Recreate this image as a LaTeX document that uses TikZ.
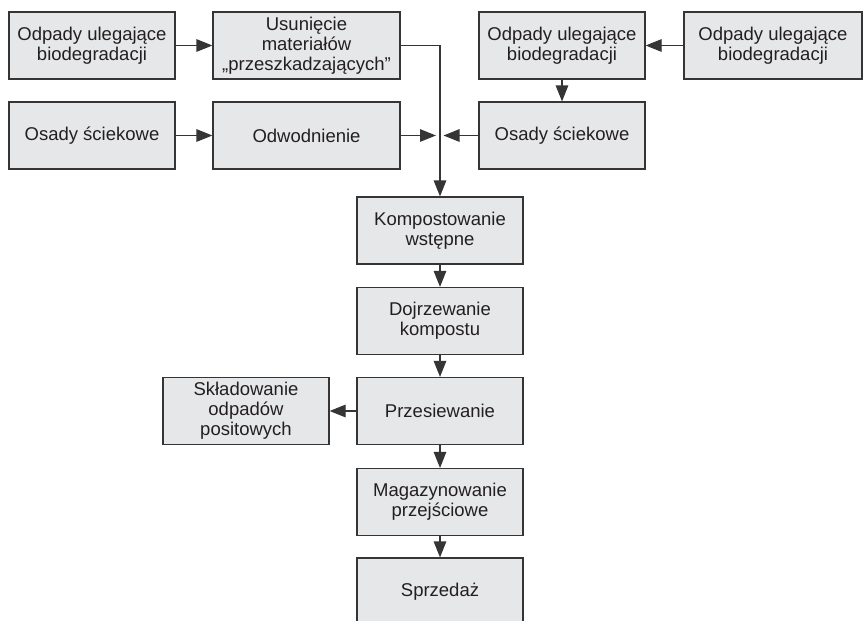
\documentclass[tikz,border=0pt]{standalone}
\usepackage{fontspec}
\setmainfont{Liberation Sans}
\usetikzlibrary{arrows.meta}
\definecolor{boxfill}{HTML}{E6E7E8}
\definecolor{boxline}{HTML}{353535}
\definecolor{txt}{HTML}{231F20}
\tikzset{
  stagebox/.style={draw=boxline, fill=boxfill, line width=1.2pt, minimum height=67pt,
    minimum width=166pt, align=center, inner sep=2pt, text=txt,
    font=\fontsize{18.5}{20}\selectfont},
  flow/.style={draw=boxline, line width=1.2pt, -{Triangle[length=16pt,width=12.5pt]}},
  plain/.style={draw=boxline, line width=1.2pt}
}
\begin{document}
\begin{tikzpicture}[x=1pt,y=-1pt]
\clip (0,0) rectangle (863,621);
\fill[white] (0,0) rectangle (863,621);
\node[stagebox] (a1) at (92,45.5) {Odpady ulegające\\biodegradacji};
\node[stagebox, minimum width=187pt] (u) at (306.5,45.5) {Usunięcie\\materiałów\\„przeszkadzających”};
\node[stagebox] (o1) at (92,135.5) {Osady ściekowe};
\node[stagebox, minimum width=187pt] (w) at (306.5,135.5) {Odwodnienie};
\node[stagebox] (a2) at (562,45.5) {Odpady ulegające\\biodegradacji};
\node[stagebox, minimum width=178pt] (a3) at (773,45.5) {Odpady ulegające\\biodegradacji};
\node[stagebox] (o2) at (562,135.5) {Osady ściekowe};
\node[stagebox] (k) at (440,230.5) {Kompostowanie\\wstępne};
\node[stagebox] (d) at (440,321) {Dojrzewanie\\kompostu};
\node[stagebox] (p) at (440,411) {Przesiewanie};
\node[stagebox] (m) at (440,502) {Magazynowanie\\przejściowe};
\node[stagebox] (s) at (440,591.5) {Sprzedaż};
\node[stagebox] (sk) at (246,411) {Składowanie\\odpadów\\positowych};
\coordinate (jl) at (436,135.5);
\coordinate (jr) at (443.5,135.5);
\coordinate (top) at (k.north |- u.east);
\draw[flow] (a1) -- (u);
\draw[flow] (o1) -- (w);
\draw[flow] (a3) -- (a2);
\draw[flow] (a2) -- (o2);
\draw[flow] (u.east) -- (top) -- (k.north);
\draw[flow] (w.east) -- (jl);
\draw[flow] (o2.west) -- (jr);
\draw[flow] (k) -- (d);
\draw[flow] (d) -- (p);
\draw[flow] (p) -- (m);
\draw[flow] (m) -- (s);
\draw[flow] (p) -- (sk);
\end{tikzpicture}
\end{document}
